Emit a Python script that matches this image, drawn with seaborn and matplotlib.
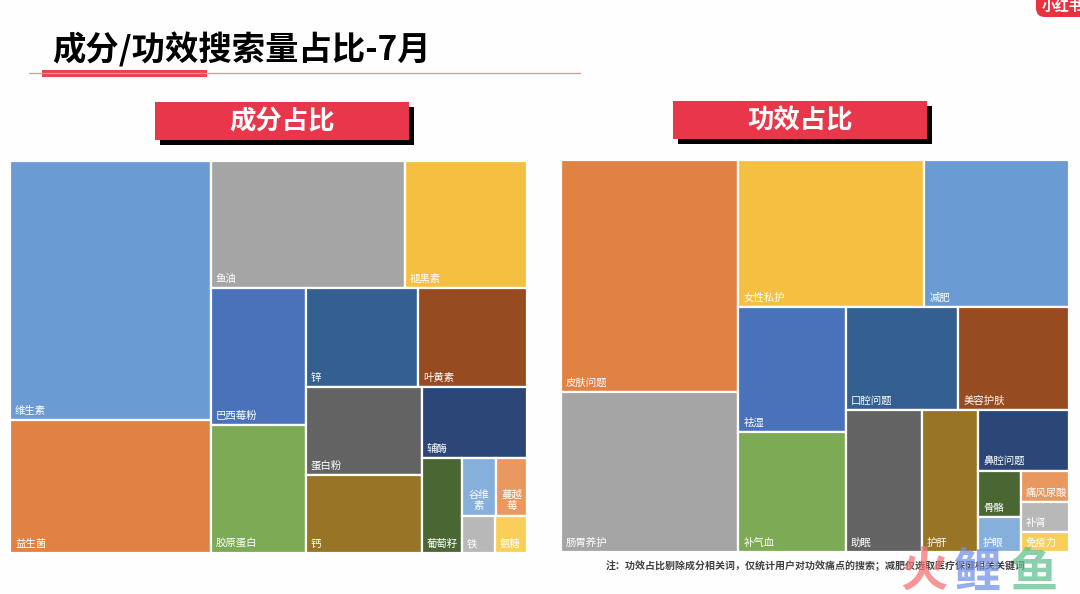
import matplotlib
matplotlib.use("Agg")
import matplotlib.pyplot as plt
from matplotlib.patches import Rectangle, FancyBboxPatch
import seaborn as sns

# ---------------- data ----------------
ing_names = ['维生素', '益生菌', '鱼油', '褪黑素', '巴西莓粉', '胶原蛋白', '锌', '叶黄素',
             '蛋白粉', '钙', '辅酶', '葡萄籽', '谷维素', '蔓越莓', '铁', '氨糖']
ing_values = [51930, 26667, 24702, 15494, 13084, 12224, 11088, 10791,
              10208, 9048, 7455, 3800, 1972, 1798, 1221, 1184]
ing_strips = [2, 2, 2, 2, 2, 1, 1, 2, 1, 1]

eff_names = ['皮肤问题', '肠胃养护', '女性私护', '减肥', '祛湿', '补气血', '口腔问题', '美容护肤',
             '助眠', '护肝', '鼻腔问题', '骨骼', '护眼', '痛风尿酸', '补肾', '免疫力']
eff_values = [41180, 28400, 27342, 21242, 13438, 12900, 11588, 11382,
              10792, 7952, 5551, 1978, 1505, 1464, 1464, 960]
eff_strips = [2, 2, 2, 2, 1, 1, 1, 2, 1, 1, 1]

palette = ['#6A9BD2', '#E08244', '#A5A5A5', '#F5BF42', '#4A72BB', '#7DAA55',
           '#335F91', '#974B20', '#636363', '#977426', '#2C4677', '#4A6733',
           '#86AFDC', '#E99860', '#B8B8B8', '#F9CF59']
ing_color_idx = list(range(16))
eff_color_idx = [1, 2, 3, 0, 4, 5, 6, 7, 8, 9, 10, 11, 12, 13, 14, 15]

title_text = '成分/功效搜索量占比-7月'
left_title = '成分占比'
right_title = '功效占比'
note_text = '注：功效占比剔除成分相关词，仅统计用户对功效痛点的搜索；减肥仅选取医疗保健相关关键词'

# ---------------- style ----------------
sns.set_theme(style='white')
plt.rcParams['font.family'] = ['Noto Sans CJK SC', 'DejaVu Sans']

FW, FH = 1080, 594
fig = plt.figure(figsize=(FW / 100, FH / 100), dpi=100, facecolor='#FEFEFE')


def strip_layout(values, strips, W, H):
    total = float(sum(values))
    areas = [v * W * H / total for v in values]
    x, y, w, h = 0.0, 0.0, float(W), float(H)
    rects, i = [], 0
    for n in strips:
        grp = areas[i:i + n]
        s = sum(grp)
        if w >= h:
            cw = s / h
            yy = y
            for a in grp:
                ah = a / cw
                rects.append((x, yy, cw, ah))
                yy += ah
            x += cw
            w -= cw
        else:
            rh = s / w
            xx = x
            for a in grp:
                aw = a / rh
                rects.append((xx, y, aw, rh))
                xx += aw
            y += rh
            h -= rh
        i += n
    return rects


def draw_treemap(box, names, values, cidx, strips):
    x0, y0, W, H = box
    ax = fig.add_axes([x0 / FW, 1 - (y0 + H) / FH, W / FW, H / FH])
    ax.set_xlim(0, W)
    ax.set_ylim(H, 0)
    ax.axis('off')
    rects = strip_layout(values, strips, W, H)
    fs = 7.5
    cw = fs * 1.39
    for (x, y, w, h), name, ci in zip(rects, names, cidx):
        ax.add_patch(Rectangle((x, y), w, h, facecolor=palette[ci],
                               edgecolor='white', linewidth=1.6))
        if len(name) * cw + 4 > w:
            per = max(1, int((w - 4) // cw))
            lines = [name[k:k + per] for k in range(0, len(name), per)]
            ax.text(x + w / 2, y + h - 5, '\n'.join(lines), ha='center',
                    va='bottom', color='white', fontsize=fs, linespacing=1.15,
                    multialignment='center')
        else:
            ax.text(x + 5, y + h - 4, name, ha='left', va='bottom',
                    color='white', fontsize=fs)
    return ax


draw_treemap((10, 161, 517, 392), ing_names, ing_values, ing_color_idx, ing_strips)
draw_treemap((561, 160, 508, 392), eff_names, eff_values, eff_color_idx, eff_strips)

# ---------------- decorations ----------------
ov = fig.add_axes([0, 0, 1, 1], zorder=10)
ov.set_xlim(0, FW)
ov.set_ylim(FH, 0)
ov.axis('off')
ov.patch.set_alpha(0)

ov.text(52, 50, title_text, ha='left', va='center', fontsize=24,
        fontweight='heavy', color='black')
ov.plot([29, 580], [73, 73], color='#F08A90', lw=0.9)
ov.add_patch(Rectangle((42, 70), 165, 6.5, facecolor='#E8434E', edgecolor='none'))

for (bx, by, bw, bh), txt in [((155, 102, 254, 38), left_title),
                              ((673, 101, 254, 38), right_title)]:
    ov.add_patch(Rectangle((bx + 5, by + 5), bw, bh, facecolor='black', edgecolor='none'))
    ov.add_patch(Rectangle((bx, by), bw, bh, facecolor='#E8364A', edgecolor='none'))
    ov.text(bx + bw / 2, by + bh / 2 + 1, txt, ha='center', va='center',
            fontsize=19, fontweight='bold', color='white')

ov.text(606, 566, note_text, ha='left', va='center', fontsize=7.2,
        fontweight='bold', color='#404040')

# logo (top right)
ov.add_patch(FancyBboxPatch((1036, -10), 60, 27, boxstyle='round,pad=0,rounding_size=9',
                            facecolor='#E8323F', edgecolor='none'))
ov.text(1042, 7, '小红书', ha='left', va='center', fontsize=10,
        fontweight='heavy', color='white')

# watermark
for cx, ch, col in [(924, '火', '#F47474'), (978, '鲤', '#7592E8'), (1034, '鱼', '#62C291')]:
    ov.text(cx, 573, ch, ha='center', va='center', fontsize=34,
            fontweight='heavy', color=col, alpha=0.75)

fig.savefig('out.png', dpi=100, facecolor=fig.get_facecolor())
